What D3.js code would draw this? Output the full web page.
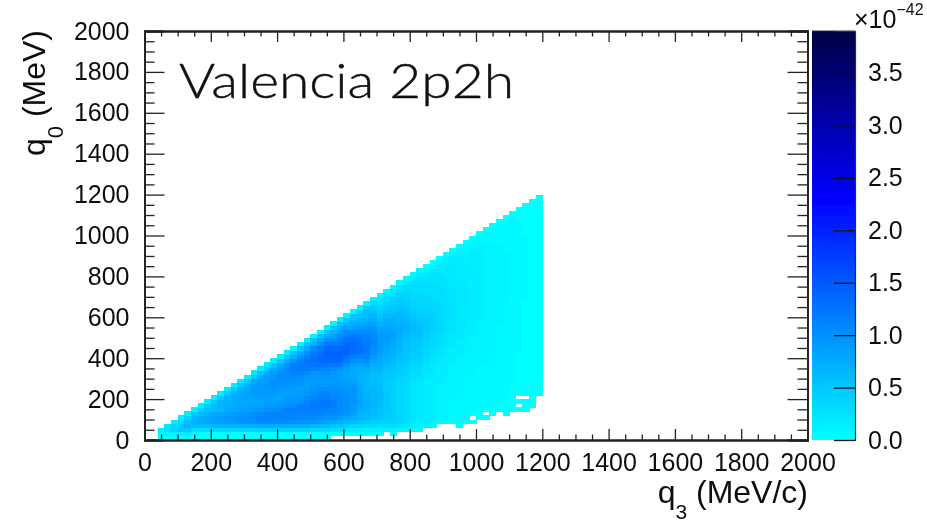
<!DOCTYPE html>
<html>
<head>
<meta charset="utf-8">
<script src="https://cdnjs.cloudflare.com/ajax/libs/d3/7.8.5/d3.min.js"></script>
<style>
html,body{margin:0;padding:0;background:#fff;overflow:hidden}
svg{display:block;font-family:"Liberation Sans",Arial,sans-serif}
text{fill:#111}
</style>
</head>
<body>
<svg id="c" width="927" height="522"></svg>
<script>
// Axis ticks
const majorTicks = [0,200,400,600,800,1000,1200,1400,1600,1800,2000];
const minorTicks = [50,100,150,250,300,350,450,500,550,650,700,750,850,900,950,1050,1100,1150,1250,1300,1350,1450,1500,1550,1650,1700,1750,1850,1900,1950];
const colorTicks = [0,0.5,1,1.5,2,2.5,3,3.5];
const colorDomain = [0,2.3,3.9];
const colorRange = ["#00ffff","#0000ff","#000046"];
// Histogram: first column starts at q3 = 40 MeV/c, bins are 20 MeV wide.
const firstQ3 = 40, binSize = 20, levelUnit = 0.05, levelZero = 2; // level 2 reads as 0, one level = 0.05e-42
// One string per q3 column, one base-36 level per q0 bin from q0 = 0 upward; "." = empty bin.
const q3Columns = [
"135","1486","14a95","14bc85","15cfd95",
"128egfb5","128ehhea5","128eiigdb5","129fjjheeb5","129fjkifffb5",
"129gkljhgggb5","129gklkihhhgb5","129glmkjiiihfb5","12agmmljiijjigb5","12agmnmkjijkkjhc5",
"12ahnonljijkkkjhc5","12ahnoomkjjkllkjhc5","12ahnoomkjjklmmlkhc5","12ahnoonlkjjkmmnmkhc5","12ahmoopmlkjklmnnnlhc5",
"12agmoopnlkjklmn"+"pppmhc4",
"12aglnoppmlkjklmo"+"qqpmhc4",
"12aglnopponlkjkln"+"qrrpmhc4",
"129flnopqpomlkkll"+"orssqnhc4",
"129ekmopqqpomlkkm"+"orttsqmhc4",
"129ejlnpqqpomlkkm"+"ortuutqmhc4",
".28dilnopponmlkkl"+"nqtuutqnjgc4",
".27chkmnnnnnmlkjj"+"mqtuutrpnjgc4",
".26bfilmmmmmlkjii"+"jmpsuutrpnjfb4",
".25aehjkkllllkjih"+"hjmpsttsqnjgeb4",
".25adfghiiiihhggg"+"hikorssrpnkhfda4",
".249cefgggggffff"+"ghjmopqqponligedb4",
".248bdeeff"+"fffeeeefgi"+"kmnoonmljh"+"fdb84",
".247acddee"+"eeeeddefgh"+"ijkllkjigecba863",
"..58abbccc"+"ccbbbccdef"+"ghijkkjihgedba863",
".258aabbbb"+"bbbbbccdef"+"fghiijjihgfdcba863",
"..47999999"+"9999aabbcd"+"deffgghhgffedcba863",
"..46888888"+"888899aabc"+"ccddeefffeedcbaa9863",
"..35677777"+"777778899a"+"bbccddeeedcbaa9988753",
"..34566666"+"666667889a"+"abbccddddcbaa999887753",
"...4555555"+"5555566778"+"899aabbccbbaa9988877642",
"...3455555"+"5555556667"+"788999aaabaa999888777642",
"....344444"+"4445555556"+"6778889999999988887776542",
"....344444"+"4444455555"+"56677788888888877777666542",
"....233333"+"4444444445"+"555666777777777776666665542",
"...2333333"+"3344444444"+"4555566666666666666555555432",
"....233333"+"3333344444"+"44455555666666666665555544432",
"....2.2333"+"3333334444"+"4444455555"+"55555555555555555432",
".....22233"+"3333333344"+"4444444445"+"555555555555555554432",
".....2.233"+"3333333334"+"4444444444"+"4444444444444444443332",
"......2233"+"3333333333"+"3344444444"+"44444444444444444433332",
".......223"+"3333333333"+"3333333344"+"444444444444444444333332",
"......2222"+"3333333333"+"3333333333"+"3333444444444444333333332",
".......222"+"2222333333"+"3333333333"+"33333333333333333333333332",
".......2.2"+".222222222"+"2233333333"+"333333333333333333333333222",
".......222"+".222222222"+"2222222222"+"2222333333333333333322222222",
"........22"+"2222222222"+"2222222222"+"22222222222222222222222222221",
".........."+".222222222"+"2222222222"+"222222222222222222222222222221"
];

const x = d3.scaleLinear().domain([0,2000]).range([144.5,807.5]);
const y = d3.scaleLinear().domain([0,2000]).range([440,31]);
const cy = d3.scaleLinear().domain([0,3.9]).range([440,31]);
const color = d3.scaleLinear().domain(colorDomain).range(colorRange);

const svg = d3.select("#c");
const defs = svg.append("defs");
defs.append("filter").attr("id","soft").attr("x","-2%").attr("y","-2%").attr("width","104%").attr("height","104%")
  .append("feGaussianBlur").attr("stdDeviation",0.65);
defs.append("filter").attr("id","txt").attr("x","-5%").attr("y","-5%").attr("width","110%").attr("height","110%")
  .append("feGaussianBlur").attr("stdDeviation",0.35);
defs.append("clipPath").attr("id","plot").append("rect")
  .attr("x",144).attr("y",31).attr("width",664).attr("height",409);
const grad = defs.append("linearGradient").attr("id","bar").attr("x1",0).attr("x2",0).attr("y1",1).attr("y2",0);
colorDomain.forEach((d,i)=>grad.append("stop").attr("offset",d/3.9).attr("stop-color",colorRange[i]));

// Heat map
const cells = [];
q3Columns.forEach((col,i)=>{
  [...col].forEach((ch,j)=>{
    if(ch!==".") cells.push({q3:firstQ3+i*binSize,q0:j*binSize,v:Math.max(0,parseInt(ch,36)-levelZero)*levelUnit});
  });
});
svg.append("g").attr("clip-path","url(#plot)").append("g").attr("filter","url(#soft)")
  .selectAll("rect").data(cells).join("rect")
  .attr("x",d=>x(d.q3)).attr("y",d=>y(d.q0+binSize))
  .attr("width",x(binSize)-x(0)+0.5).attr("height",y(0)-y(binSize)+0.5)
  .attr("shape-rendering","crispEdges")
  .attr("fill",d=>color(d.v));

// Axes
const root = svg.append("g").attr("filter","url(#txt)");
function frameAxis(gen,scale,tx,ty,values,len,labels,pad){
  const a = gen(scale).tickValues(values).tickSize(-len).tickPadding(pad||0).tickFormat(labels?d3.format("d"):"");
  const g = root.append("g").attr("transform",`translate(${tx},${ty})`).call(a);
  g.select(".domain").attr("stroke","#222").attr("stroke-width",1.8);
  g.selectAll(".tick line").attr("stroke","#222").attr("stroke-width",1.3);
  g.selectAll("text").attr("font-size",25).attr("font-family","Liberation Sans").attr("fill","#111");
  return g;
}
frameAxis(d3.axisBottom,x,0,440,majorTicks,11,true,13);
frameAxis(d3.axisBottom,x,0,440,minorTicks,5.5,false);
frameAxis(d3.axisTop,x,0,31,majorTicks,11,false);
frameAxis(d3.axisTop,x,0,31,minorTicks,5.5,false);
frameAxis(d3.axisLeft,y,144.5,0,majorTicks,20,true,15);
frameAxis(d3.axisLeft,y,144.5,0,minorTicks,10,false);
frameAxis(d3.axisRight,y,807.5,0,majorTicks,20,false);
frameAxis(d3.axisRight,y,807.5,0,minorTicks,10,false);

// Colour bar
root.append("rect").attr("x",812).attr("y",31).attr("width",43).attr("height",409).attr("fill","url(#bar)");
const cb = root.append("g").attr("transform","translate(855,0)")
  .call(d3.axisRight(cy).tickValues(colorTicks).tickSize(-21).tickPadding(13).tickFormat(d3.format(".1f")));
cb.select(".domain").attr("stroke","#234").attr("stroke-width",1.2);
cb.selectAll(".tick line").attr("stroke","#111").attr("stroke-width",1.3);
cb.selectAll("text").attr("font-size",25).attr("font-family","Liberation Sans").attr("fill","#111");
root.append("line").attr("x1",812).attr("x2",855).attr("y1",31).attr("y2",31).attr("stroke","#334").attr("stroke-width",1);

const mult = root.append("text").attr("x",854).attr("y",28).attr("font-size",25);
mult.append("tspan").text("×10");
mult.append("tspan").attr("font-size",16).attr("dy",-13).text("−42");

// Axis titles
const xt = root.append("text").attr("x",808).attr("y",503).attr("text-anchor","end").attr("font-size",32);
xt.append("tspan").text("q");
xt.append("tspan").attr("font-size",21).attr("dy",16).text("3");
xt.append("tspan").attr("dy",-16).text(" (MeV/c)");

const yt = root.append("text").attr("transform","translate(45,30) rotate(-90)").attr("text-anchor","end").attr("font-size",32);
yt.append("tspan").text("q");
yt.append("tspan").attr("font-size",22).attr("dy",18).text("0");
yt.append("tspan").attr("dy",-18).text(" (MeV)");

// Annotation
svg.append("text").attr("x",179).attr("y",98).attr("font-family","Lato").attr("font-size",48)
  .attr("font-weight",300).attr("stroke","#111").attr("stroke-width",0.4)
  .attr("textLength",335).attr("lengthAdjust","spacingAndGlyphs").attr("fill","#111")
  .text("Valencia 2p2h");
</script>
</body>
</html>
